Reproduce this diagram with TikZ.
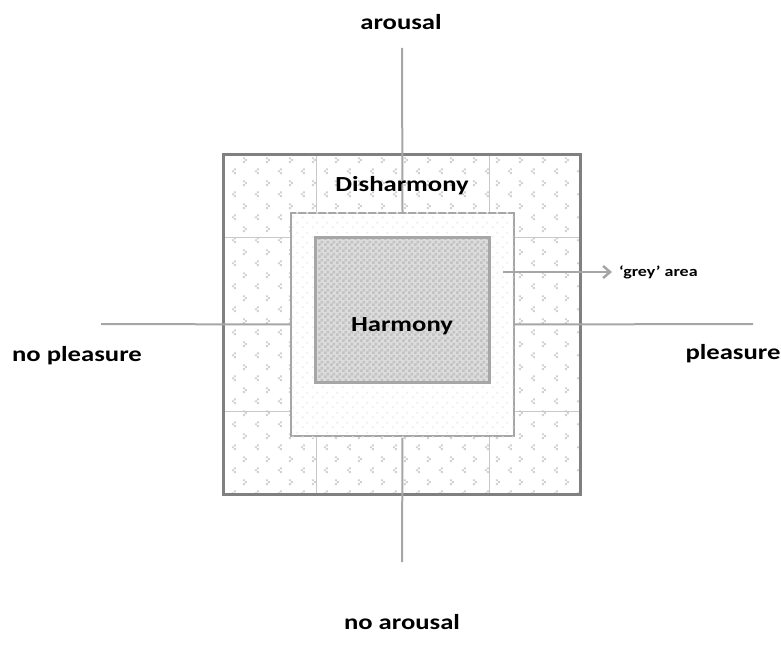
\documentclass[tikz,border=0pt]{standalone}
\usepackage{fontspec}
\setmainfont{Carlito}
\newfontfamily\lblfont[FakeStretch=1.24]{Carlito}
\usetikzlibrary{patterns,arrows.meta}
\pgfdeclarepatternformonly{confetti}{\pgfpoint{0pt}{0pt}}{\pgfpoint{23pt}{23pt}}{\pgfpoint{23pt}{23pt}}{%
  \pgfpathrectangle{\pgfpoint{4pt}{3pt}}{\pgfpoint{2pt}{2pt}}%
  \pgfpathrectangle{\pgfpoint{2pt}{5pt}}{\pgfpoint{2pt}{2pt}}%
  \pgfpathrectangle{\pgfpoint{4pt}{7pt}}{\pgfpoint{2pt}{2pt}}%
  \pgfpathrectangle{\pgfpoint{13.5pt}{14.5pt}}{\pgfpoint{2pt}{2pt}}%
  \pgfpathrectangle{\pgfpoint{15.5pt}{16.5pt}}{\pgfpoint{2pt}{2pt}}%
  \pgfpathrectangle{\pgfpoint{13.5pt}{18.5pt}}{\pgfpoint{2pt}{2pt}}%
  \pgfusepath{fill}}
\pgfdeclarepatternformonly{faintdots}{\pgfpoint{0pt}{0pt}}{\pgfpoint{10pt}{10pt}}{\pgfpoint{10pt}{10pt}}{%
  \pgfpathrectangle{\pgfpoint{2pt}{2pt}}{\pgfpoint{2pt}{2pt}}%
  \pgfpathrectangle{\pgfpoint{7pt}{7pt}}{\pgfpoint{2pt}{2pt}}%
  \pgfusepath{fill}}
\pgfdeclarepatternformonly{checks}{\pgfpoint{0pt}{0pt}}{\pgfpoint{6pt}{6pt}}{\pgfpoint{6pt}{6pt}}{%
  \pgfpathrectangle{\pgfpoint{0pt}{0pt}}{\pgfpoint{3pt}{3pt}}%
  \pgfpathrectangle{\pgfpoint{3pt}{3pt}}{\pgfpoint{3pt}{3pt}}%
  \pgfusepath{fill}}
\definecolor{axisgrey}{HTML}{A6A6A6}
\definecolor{bordergrey}{HTML}{808080}
\definecolor{gridgrey}{HTML}{C8C8C8}
\definecolor{dotgrey}{HTML}{D2D2D2}
\definecolor{faintgrey}{HTML}{EEEEEE}
\definecolor{checkA}{HTML}{DCDCDC}
\definecolor{checkB}{HTML}{C2C2C2}
\begin{document}
\begin{tikzpicture}[x=1pt,y=-1pt,
  lbl/.style={font=\lblfont\bfseries\fontsize{21.5}{24}\selectfont, inner sep=0pt},
  small/.style={font=\lblfont\bfseries\fontsize{14.5}{16}\selectfont, inner sep=0pt, anchor=west},
  axis/.style={draw=axisgrey, line width=2pt},
  gridline/.style={draw=gridgrey, line width=1pt}]
\useasboundingbox (0,0) rectangle (781,660);
% outer field
\node[draw=none, fill=white, minimum width=356pt, minimum height=339pt, inner sep=0pt] (outer) at (402,324.5) {};
\fill[pattern=confetti, pattern color=dotgrey] (outer.north west) rectangle (outer.south east);
\draw[gridline] (316,155) -- (316,494);
\draw[gridline] (489,155) -- (489,494);
\draw[gridline] (224,238) -- (580,238);
\draw[gridline] (224,411) -- (580,411);
\draw[draw=bordergrey, line width=3pt] (outer.north west) rectangle (outer.south east);
% axes ends
\coordinate (top) at (402,48);
\coordinate (bottom) at (402,562);
\coordinate (left) at (101,324);
\coordinate (right) at (753,324);
% inner white band
\node[fill=white, draw=axisgrey, line width=1.2pt, minimum width=223pt, minimum height=223pt, inner sep=0pt] (inner) at (402.5,324.5) {};
\draw[axis] (top) -- (inner.north);
\draw[axis] (inner.south) -- (bottom);
\draw[axis] (left) -- (inner.west);
\draw[axis] (inner.east) -- (right);
\fill[pattern=faintdots, pattern color=faintgrey] ([shift={(1,-1)}]inner.north west) rectangle ([shift={(-1,1)}]inner.south east);
% harmony
\node[fill=checkA, minimum width=173pt, minimum height=144pt, inner sep=0pt] (harmony) at (402.5,310) {};
\fill[pattern=checks, pattern color=checkB] (harmony.north west) rectangle (harmony.south east);
\draw[draw=axisgrey, line width=3pt] (harmony.north west) rectangle (harmony.south east);
% labels
\node[lbl] (harmonylbl) at (402,326) {Harmony};
\node[lbl] (disharmony) at (402,186) {Disharmony};
\node[lbl] (arousal) at (401,22) {arousal};
\node[lbl] (noarousal) at (402,622) {no arousal};
\node[lbl] (nopleasure) at (77,356) {no pleasure};
\node[lbl] (pleasure) at (733,354) {pleasure};
\node[small] (grey) at (619,272) {‘grey’ area};
\coordinate (arrowstart) at (503,272);
\draw[axis, line width=2.5pt, -{Straight Barb[length=7pt,width=12pt]}] (arrowstart) -- ([xshift=-7pt]grey.west);
\end{tikzpicture}
\end{document}
